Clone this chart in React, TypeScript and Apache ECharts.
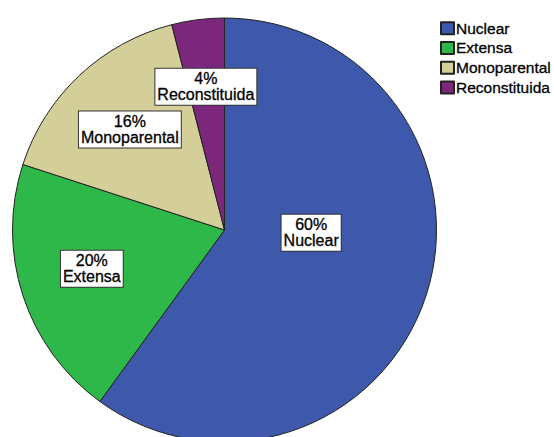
import React, { useEffect, useRef } from "react";
import * as echarts from "echarts";

const categories = ["Nuclear", "Extensa", "Monoparental", "Reconstituida"];
const values = [60, 20, 16, 4];
const colors = ["#3e58ab", "#2fb84a", "#d4ce98", "#7b287c"];
// label nudges (px) from the default inside position
const labelShift = [
  [-17, -31],
  [-29, 5],
  [-20, -21],
  [-5, -35],
];

export default function App() {
  const ref = useRef<HTMLDivElement>(null);
  useEffect(() => {
    if (!ref.current) return;
    const chart = echarts.init(ref.current, undefined, { renderer: "svg" });
    chart.setOption({
      animation: false,
      backgroundColor: "#ffffff",
      legend: {
        orient: "vertical",
        left: 440,
        top: 20,
        padding: 0,
        itemWidth: 13,
        itemHeight: 12,
        itemGap: 3.5,
        icon: "rect",
        data: categories,
        textStyle: {
          fontFamily: "Liberation Sans",
          fontSize: 15.5,
          lineHeight: 15,
          color: "#000",
          textBorderColor: "#000",
          textBorderWidth: 0.3,
          padding: [0, 0, 0, -3],
        },
      },
      series: [
        {
          type: "pie",
          center: [224.5, 230],
          radius: [0, 212],
          startAngle: 90,
          clockwise: true,
          avoidLabelOverlap: false,
          data: categories.map((c, i) => ({ name: c, value: values[i], itemStyle: { color: colors[i] } })),
          itemStyle: { borderColor: "#222", borderWidth: 1 },
          emphasis: { disabled: true },
          label: {
            show: true,
            position: "inside",
            formatter: (p: any) => `${Math.round(p.percent)}%\n${p.name}`,
            fontFamily: "Liberation Sans",
            fontSize: 16,
            lineHeight: 16,
            color: "#000",
            textBorderColor: "#000",
            textBorderWidth: 0.3,
            backgroundColor: "#fff",
            borderColor: "#333",
            borderWidth: 1,
            padding: [2, 2, 2, 2],
            align: "center",
          },
          labelLayout: (p: any) => ({ dx: labelShift[p.dataIndex][0], dy: labelShift[p.dataIndex][1] }),
          labelLine: { show: false },
        },
      ],
    });
    return () => chart.dispose();
  }, []);
  return <div ref={ref} style={{ position: "fixed", left: 0, top: 0, width: 554, height: 437 }} />;
}
